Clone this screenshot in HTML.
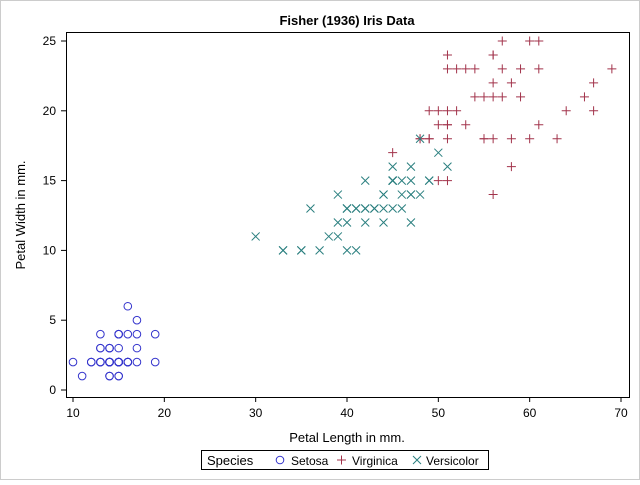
<!DOCTYPE html>
<html><head><meta charset="utf-8"><style>
body{margin:0;background:#fff;}
svg text{font-family:"Liberation Sans",Arial,sans-serif;fill:#000;}
</style></head><body>
<svg id="s" width="640" height="480" xmlns="http://www.w3.org/2000/svg">
<rect x="0.5" y="0.5" width="639" height="479" fill="#fff" stroke="#ccc"/>
<text x="347" y="25" font-size="13" font-weight="bold" text-anchor="middle">Fisher (1936) Iris Data</text>
<rect x="66.5" y="32.5" width="563" height="365" fill="none" stroke="#000"/>
<g id="ticks" stroke="#000"></g>
<g id="pts" fill="none" stroke-width="1"></g>
<text x="347" y="442" font-size="13" text-anchor="middle">Petal Length in mm.</text>
<text x="25" y="215" font-size="13" text-anchor="middle" transform="rotate(-90 25 215)">Petal Width in mm.</text>
<rect x="201.5" y="450.5" width="287" height="19" fill="none" stroke="#000"/>
<text x="207" y="465" font-size="13">Species</text>
<circle cx="280" cy="460" r="3.8" fill="none" stroke="#3333cc"/>
<text x="291" y="465" font-size="12">Setosa</text>
<path d="M337 460h9M341.5 455.5v9" stroke="#a2334b"/>
<text x="352" y="465" font-size="12">Virginica</text>
<path d="M413 456l8 8M421 456l-8 8" stroke="#2a7f7f"/>
<text x="426" y="465" font-size="12">Versicolor</text>
</svg>
<script>
var NS="http://www.w3.org/2000/svg";
function X(v){return 73+(v-10)*548/60;}
function Y(v){return 390-v*349/25;}
var t=document.getElementById("ticks"),s=document.getElementById("s");
function el(p,n,a){var e=document.createElementNS(NS,n);for(var k in a)e.setAttribute(k,a[k]);p.appendChild(e);return e;}
for(var v=10;v<=70;v+=10){var x=X(v);el(t,"line",{x1:x,x2:x,y1:397,y2:402});var tx=el(s,"text",{x:x,y:417,"font-size":12,"text-anchor":"middle"});tx.textContent=v;}
for(var v=0;v<=25;v+=5){var y=Y(v);el(t,"line",{x1:61,x2:66,y1:y,y2:y});var tx=el(s,"text",{x:56,y:y+4,"font-size":12,"text-anchor":"end"});tx.textContent=v;}
var se="14 2,14 2,13 2,15 2,14 2,17 4,14 3,15 2,14 2,15 1,15 2,16 2,14 1,11 1,12 2,15 4,13 4,14 3,17 3,15 3,17 2,15 4,10 2,17 5,19 2,16 2,16 4,15 2,14 2,16 2,15 4,15 1,14 2,15 2,12 2,13 2,14 1,13 2,15 2,13 3,13 3,16 6,19 4,14 3,16 2,14 2,15 2,14 2";
var ve="47 14,45 15,49 15,40 13,46 15,45 13,47 16,33 10,46 13,39 14,35 10,42 15,40 10,47 14,36 13,44 14,45 15,41 10,45 15,39 11,48 18,40 13,49 15,47 12,43 13,44 14,48 14,50 17,45 15,35 10,38 11,37 10,39 12,51 16,45 15,45 16,47 15,44 13,41 13,40 13,44 12,46 14,40 12,33 10,42 13,42 12,42 13,43 13,30 11,41 13";
var vi="60 25,51 19,59 21,56 18,58 22,66 21,45 17,63 18,58 18,61 25,51 20,53 19,55 21,50 20,51 24,53 23,55 18,67 22,69 23,50 15,57 23,49 20,67 20,49 18,57 21,60 18,48 18,49 18,56 21,58 16,61 19,64 20,56 22,51 15,56 14,61 23,56 24,55 18,48 18,54 21,56 24,51 23,51 19,59 23,57 25,52 23,50 19,52 20,54 23,51 18";
var g=document.getElementById("pts");
se.split(",").forEach(function(p){var a=p.split(" ");el(g,"circle",{cx:X(+a[0]),cy:Y(+a[1]),r:3.8,stroke:"#3333cc"});});
vi.split(",").forEach(function(p){var a=p.split(" "),x=X(+a[0]),y=Y(+a[1]);el(g,"path",{d:"M"+(x-4.5)+" "+y+"h9M"+x+" "+(y-4.5)+"v9",stroke:"#a2334b"});});
ve.split(",").forEach(function(p){var a=p.split(" "),x=X(+a[0]),y=Y(+a[1]);el(g,"path",{d:"M"+(x-4)+" "+(y-4)+"l8 8M"+(x+4)+" "+(y-4)+"l-8 8",stroke:"#2a7f7f"});});
</script>
</body></html>
